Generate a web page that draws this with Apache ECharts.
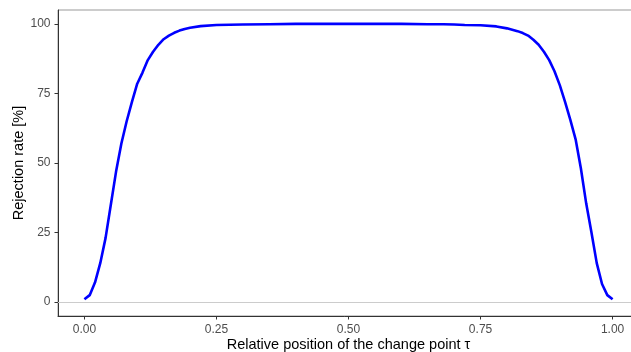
<!DOCTYPE html>
<html>
<head>
<meta charset="utf-8">
<script src="https://cdn.jsdelivr.net/npm/echarts@6/dist/echarts.min.js"></script>
<style>html,body{margin:0;padding:0;background:#fff}#c{width:631px;height:352px}</style>
</head>
<body>
<div id="c"></div>
<script>
const positions = [0, 0.01, 0.02, 0.03, 0.04, 0.05, 0.06, 0.07, 0.08, 0.09, 0.10, 0.11, 0.12, 0.13, 0.14, 0.15, 0.16, 0.17, 0.18, 0.19, 0.20, 0.22, 0.25, 0.30, 0.35, 0.40, 0.45, 0.50, 0.55, 0.60, 0.65, 0.68, 0.70, 0.72, 0.75, 0.78, 0.80, 0.82, 0.83, 0.84, 0.85, 0.86, 0.87, 0.88, 0.89, 0.90, 0.91, 0.92, 0.93, 0.94, 0.95, 0.96, 0.97, 0.98, 0.99, 1.00];
const rejectionRate = [1, 2.5, 7, 14, 23, 35, 47, 57, 65, 72, 78.5, 82.5, 87, 90, 92.5, 94.5, 95.8, 96.8, 97.6, 98.2, 98.6, 99.2, 99.6, 99.8, 99.9, 100, 100, 100, 100, 100, 99.9, 99.9, 99.8, 99.6, 99.5, 99.1, 98.4, 97.4, 96.7, 95.8, 94.3, 92.5, 90, 87, 83, 78, 72, 65.5, 58.5, 48, 35.5, 25, 14, 6.5, 2.5, 1];
const xTicks = [0, 0.25, 0.5, 0.75, 1];
const yTicks = [0, 25, 50, 75, 100];

const chart = echarts.init(document.getElementById('c'), null, {renderer: 'canvas'});
const labelStyle = {color: '#4d4d4d', fontSize: 12, fontFamily: 'Liberation Sans, Arial, sans-serif'};
chart.setOption({
  animation: false,
  grid: {left: 58, top: 10, width: 581, height: 306, outerBoundsMode: 'none', containLabel: false, show: true, borderColor: '#999999', borderWidth: 1, backgroundColor: 'transparent'},
  xAxis: {
    type: 'value', min: -0.05, max: 1.05,
    name: 'Relative position of the change point τ', nameLocation: 'middle', nameGap: 21, nameMoveOverlap: false,
    nameTextStyle: {color: '#000', fontSize: 14.5, fontFamily: 'Liberation Sans, Arial, sans-serif'},
    axisLine: {show: true, onZero: false, lineStyle: {color: '#333333', width: 1}},
    axisTick: {show: true, inside: false, length: 3.5, lineStyle: {color: '#333333', width: 1}, customValues: xTicks},
    axisLabel: Object.assign({margin: 7.5, customValues: xTicks, formatter: v => v.toFixed(2)}, labelStyle),
    splitLine: {show: false}
  },
  yAxis: {
    type: 'value', min: -5, max: 105,
    name: 'Rejection rate [%]', nameLocation: 'middle', nameGap: 32, nameRotate: 90, nameMoveOverlap: false,
    nameTextStyle: {color: '#000', fontSize: 14.5, fontFamily: 'Liberation Sans, Arial, sans-serif'},
    axisLine: {show: true, onZero: false, lineStyle: {color: '#333333', width: 1}},
    axisTick: {show: true, inside: false, length: 3.5, lineStyle: {color: '#333333', width: 1}, customValues: yTicks},
    axisLabel: Object.assign({margin: 7.5, customValues: yTicks}, labelStyle),
    splitLine: {show: false}
  },
  series: [{
    type: 'line',
    data: positions.map((p, i) => [p, rejectionRate[i]]),
    showSymbol: false,
    smooth: false,
    lineStyle: {color: '#0000ff', width: 2.6},
    z: 3,
    markLine: {
      silent: true, symbol: 'none', label: {show: false},
      lineStyle: {color: '#cccccc', width: 1, type: 'solid'},
      data: [{yAxis: 0}],
      z: 1
    }
  }]
});
</script>
</body>
</html>
